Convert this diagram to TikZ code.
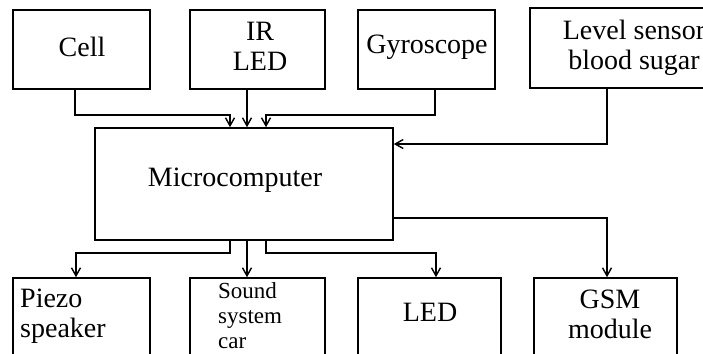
\documentclass[tikz,border=0pt]{standalone}
\usepackage{fontspec}
\setmainfont{Liberation Serif}
\usetikzlibrary{arrows.meta}
\begin{document}
\begin{tikzpicture}[x=1pt,y=-1pt,
  box/.style={draw,line width=1.6pt,rectangle,inner sep=0pt},
  txt/.style={inner sep=0pt,font=\fontsize{28}{30}\selectfont,align=center},
  small/.style={inner sep=0pt,font=\fontsize{23}{25}\selectfont,align=left},
  arr/.style={line width=1.5pt,-{Straight Barb[length=8pt,width=9pt,line width=1.4pt]}}]
\useasboundingbox (0,0) rectangle (703,353);
\clip (0,0) rectangle (703,353);
% top boxes
\node[box,minimum width=137pt,minimum height=79pt] (cell) at (81.5,49.5) {};
\node[box,minimum width=135pt,minimum height=79pt] (ir) at (257.5,49.5) {};
\node[box,minimum width=137pt,minimum height=79pt] (gyro) at (426.5,49.5) {};
\node[box,minimum width=208pt,minimum height=80pt] (lev) at (634,48) {};
\node[box,minimum width=298pt,minimum height=112pt] (mc) at (244,184) {};
% bottom boxes
\node[box,minimum width=137pt,minimum height=122pt] (piezo) at (81.5,339) {};
\node[box,minimum width=135pt,minimum height=122pt] (sound) at (257.5,339) {};
\node[box,minimum width=143pt,minimum height=122pt] (led) at (429.5,339) {};
\node[box,minimum width=143pt,minimum height=122pt] (gsm) at (605.5,339) {};
% texts
\node[txt] (tcell) at (82,47) {Cell};
\node[txt] (tir) at (260,46) {IR\\LED};
\node[txt] (tgyro) at (427,47) {Gyroscope};
\node[txt] (tlev) at (634,48) {Level sensor\\blood sugar};
\node[txt] (tmc) at (235,180) {Microcomputer};
\node[txt,anchor=west,align=left] (tpiezo) at (20,316) {Piezo\\speaker};
\node[small,anchor=west] (tsound) at (218,316) {Sound\\system\\car};
\node[txt] (tled) at (430,312) {LED};
\node[txt] (tgsm) at (610,314) {GSM\\module};
% junction coordinates
\coordinate (j1) at (230,115);
\coordinate (j3) at (266,115);
\coordinate (k1) at (230,253);
\coordinate (k3) at (266,253);
% inputs
\draw[arr] ([xshift=-6.5pt]cell.south) |- (j1) -- (j1 |- mc.north);
\draw[arr] (ir.south -| 247,0) -- (mc.north -| 247,0);
\draw[arr] ([xshift=8.5pt]gyro.south) |- (j3) -- (j3 |- mc.north);
\draw[arr] ([xshift=-27pt]lev.south) |- (mc.east |- 0,144);
% outputs
\draw[arr] (mc.south -| k1) -- (k1) -| ([xshift=-5.5pt]piezo.north);
\draw[arr] (mc.south -| 247,0) -- (sound.north -| 247,0);
\draw[arr] (mc.south -| k3) -- (k3) -| ([xshift=6.5pt]led.north);
\draw[arr] (mc.east |- 0,218) -| ([xshift=1.5pt]gsm.north);
\end{tikzpicture}
\end{document}
